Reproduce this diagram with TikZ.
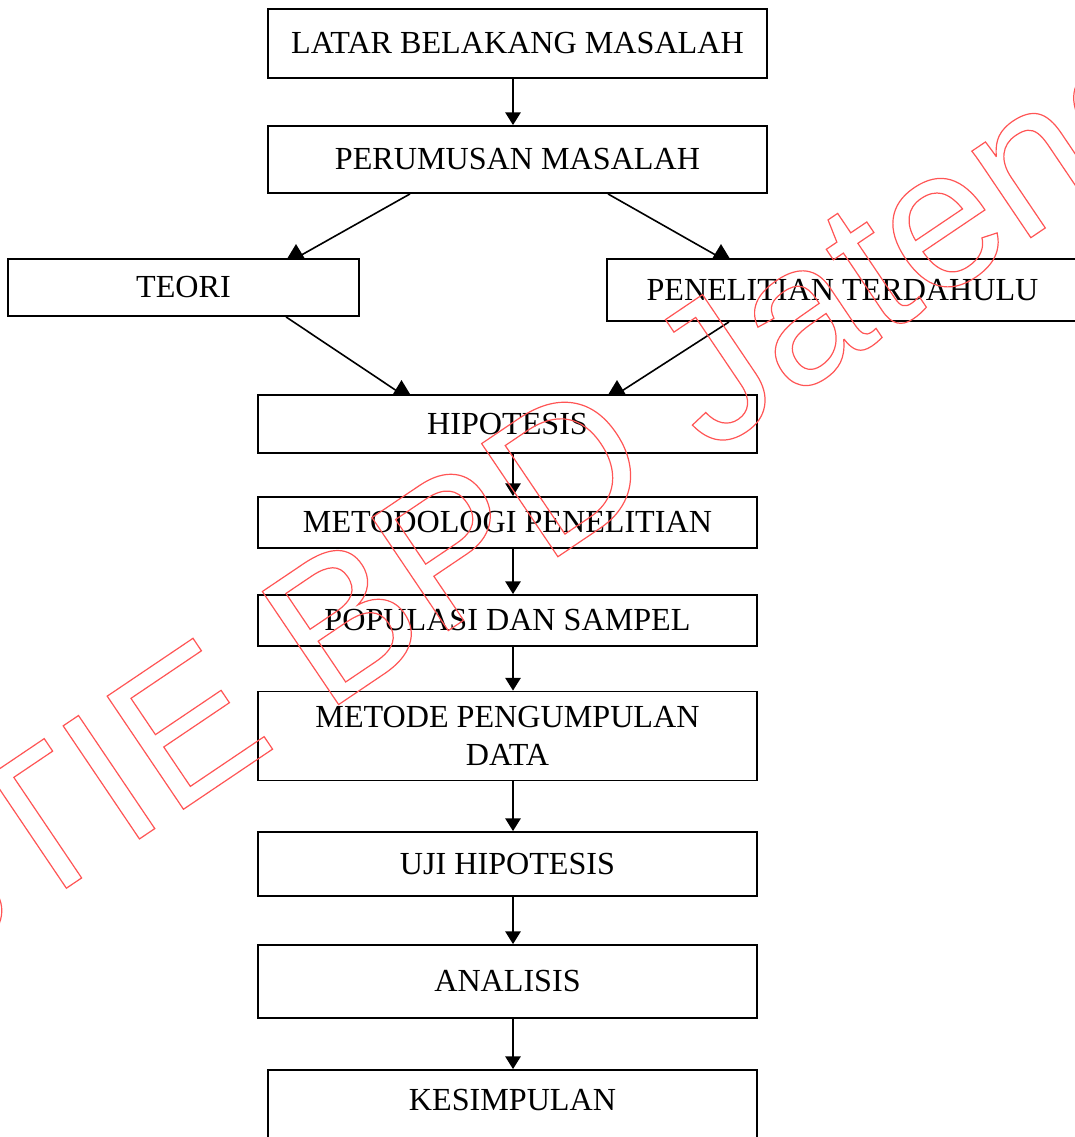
\documentclass[tikz,border=0pt]{standalone}
\usepackage{fontspec}
\setmainfont{Liberation Serif}
\newfontfamily\wmfont{Liberation Sans}
\usetikzlibrary{arrows.meta}
\definecolor{wm}{RGB}{255,85,85}
\newcommand\boxfont{\fontsize{24.1}{28.5}\selectfont}
\begin{document}
\begin{tikzpicture}[x=0.75pt,y=-0.75pt,
  box/.style={draw, line width=1.4pt, inner sep=0pt, align=center, font=\boxfont},
  link/.style={line width=1.2pt},
  varr/.style={line width=1.2pt, -{Triangle[length=9.5pt,width=11.5pt]}},
  wmark/.style={anchor=base west, rotate=34, inner sep=0pt, text=wm,
    font=\wmfont\fontsize{148.7}{150}\selectfont}]
\useasboundingbox (0,0) rectangle (1074,1137);

% boxes
\node[box, minimum width=374.25pt, minimum height=51.75pt] (lat) at (517.5,43.5) {LATAR BELAKANG MASALAH};
\node[box, minimum width=374.25pt, minimum height=50.25pt] (per) at (517.5,159.5) {PERUMUSAN MASALAH};
\node[box, minimum width=263.25pt, minimum height=42.75pt] (teo) at (183.5,287.5) {TEORI};
\node[box, minimum width=353.25pt, minimum height=46.5pt] (pen) at (842.5,290) {PENELITIAN TERDAHULU};
\node[box, minimum width=374.25pt, minimum height=43.5pt] (hip) at (507.5,424) {HIPOTESIS};
\node[box, minimum width=374.25pt, minimum height=38.25pt] (met) at (507.5,522.5) {METODOLOGI PENELITIAN};
\node[box, minimum width=374.25pt, minimum height=38.25pt] (pop) at (507.5,620.5) {POPULASI DAN SAMPEL};
\node[box, minimum width=374.25pt, minimum height=66.75pt] (mpd) at (507.5,736) {METODE PENGUMPULAN\\DATA};
\node[box, minimum width=374.25pt, minimum height=48pt] (uji) at (507.5,864) {UJI HIPOTESIS};
\node[box, minimum width=374.25pt, minimum height=54.75pt] (ana) at (507.5,981.5) {ANALISIS};
\node[box, minimum width=366.75pt, minimum height=52.5pt] (kes) at (512.5,1105) {};
\node[font=\boxfont, inner sep=0pt] (kest) at (512.5,1100) {KESIMPULAN};

% x positions of connector ends
\coordinate (vx) at (513,0);
\coordinate (xa) at (296,0);
\coordinate (xb) at (410,0);
\coordinate (xc) at (608,0);
\coordinate (xd) at (721,0);
\coordinate (xe) at (286,0);
\coordinate (xf) at (401.5,0);
\coordinate (xg) at (729,0);
\coordinate (xh) at (617,0);

% vertical arrows
\draw[varr] (lat.south -| vx) -- (per.north -| vx);
\draw[varr] (hip.south -| vx) -- (met.north -| vx);
\draw[varr] (met.south -| vx) -- (pop.north -| vx);
\draw[varr] (pop.south -| vx) -- (mpd.north -| vx);
\draw[varr] (mpd.south -| vx) -- (uji.north -| vx);
\draw[varr] (uji.south -| vx) -- (ana.north -| vx);
\draw[varr] (ana.south -| vx) -- (kes.north -| vx);

% diagonal connectors with upright triangle heads
\draw[link] (per.south -| xb) -- (teo.north -| xa);
\fill (teo.north -| xa) ++(-8.5,0) -- ++(17,0) -- ++(-8.5,-14) -- cycle;
\draw[link] (per.south -| xc) -- (pen.north -| xd);
\fill (pen.north -| xd) ++(-8.5,0) -- ++(17,0) -- ++(-8.5,-14) -- cycle;
\draw[link] (teo.south -| xe) -- (hip.north -| xf);
\fill (hip.north -| xf) ++(-8.5,0) -- ++(17,0) -- ++(-8.5,-14) -- cycle;
\draw[link] (pen.south -| xg) -- (hip.north -| xh);
\fill (hip.north -| xh) ++(-8.5,0) -- ++(17,0) -- ++(-8.5,-14) -- cycle;

% watermark (outlined text)
\node[wmark] (wm) at (-86,991) {\special{pdf:literal direct 1 Tr 0.9 w}STIE BPD Jateng\special{pdf:literal direct 0 Tr}};
\end{tikzpicture}
\end{document}
